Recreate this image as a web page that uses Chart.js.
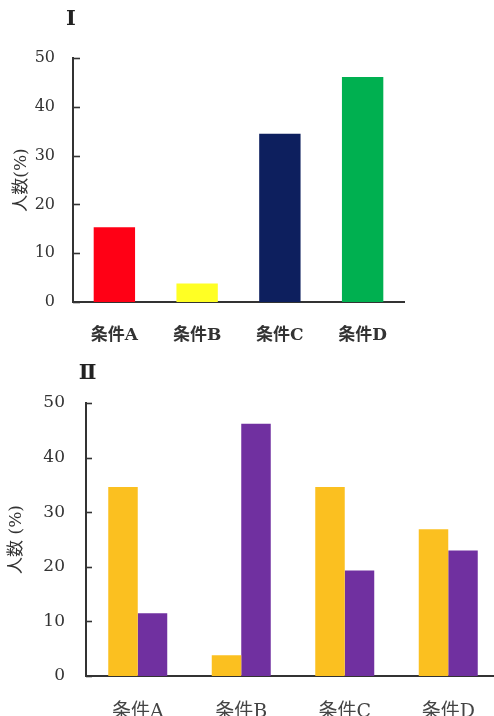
<!DOCTYPE html>
<html lang="ja">
<head>
<meta charset="utf-8">
<title>条件別の人数(%)</title>
<script src="https://cdn.jsdelivr.net/npm/chart.js@4.4.1/dist/chart.umd.min.js"></script>
<style>
  html, body { margin: 0; padding: 0; background: #fff; }
  body { width: 494px; height: 716px; overflow: hidden; position: relative; }
  #wrap1 { position: absolute; left: 0; top: 0; width: 494px; height: 352px; }
  #wrap2 { position: absolute; left: 0; top: 355px; width: 510px; height: 361px; }
</style>
</head>
<body>
<div id="wrap1"><canvas id="chart1" width="494" height="352"></canvas></div>
<div id="wrap2"><canvas id="chart2" width="510" height="361"></canvas></div>
<script>
// Categories and values
const categories = ['条件A', '条件B', '条件C', '条件D'];
const yTicks = [0, 10, 20, 30, 40, 50];

// Figure I: one bar per condition
const valuesI = [15.3, 3.8, 34.5, 46.1];
const colorsI = ['#ff0015', '#ffff24', '#0d1f5e', '#00b050'];

// Figure II: two series per condition
const valuesIIa = [34.6, 3.8, 34.6, 26.9];
const valuesIIb = [11.5, 46.2, 19.3, 23.0];

const NUM_FONT = "'DejaVu Serif', 'Liberation Serif', serif";
const LABEL_FONT = "'DejaVu Serif', 'Noto Sans CJK JP', serif";
const AXIS = '#333333';

// Draws the short inward tick marks on the y axis and the panel heading
const panelDecor = {
  id: 'panelDecor',
  afterDraw(chart, args, opts) {
    const ctx = chart.ctx;
    const y = chart.scales.y;
    const left = chart.chartArea.left;
    ctx.save();
    ctx.strokeStyle = AXIS;
    ctx.lineWidth = 1.6;
    yTicks.forEach(v => {
      const py = Math.round(y.getPixelForValue(v)) + 0.5;
      ctx.beginPath();
      ctx.moveTo(left, py);
      ctx.lineTo(left + opts.tickLen, py);
      ctx.stroke();
    });
    ctx.fillStyle = '#222';
    ctx.font = 'bold ' + opts.size + 'px ' + NUM_FONT;
    ctx.textAlign = 'center';
    ctx.textBaseline = 'middle';
    ctx.fillText(opts.heading, left + opts.dx, opts.y);
    ctx.restore();
  }
};

function yScale(width, labelPad, titleText, titleSize, titlePad, tickSize) {
  return {
    min: 0,
    max: 50,
    afterBuildTicks: s => { s.ticks = yTicks.map(v => ({ value: v })); },
    afterFit: s => { s.width = width; },
    grid: { display: false, drawTicks: false },
    border: { display: true, color: AXIS, width: 2 },
    ticks: {
      padding: labelPad,
      color: '#333',
      font: { family: NUM_FONT, size: tickSize }
    },
    title: {
      display: true,
      text: titleText,
      color: '#333',
      padding: { top: titlePad, bottom: 0 },
      font: { family: LABEL_FONT, size: titleSize }
    }
  };
}

function xScale(height, labelPad, size, weight, color) {
  return {
    afterFit: s => { s.height = height; },
    grid: { display: false, drawTicks: false },
    border: { display: true, color: AXIS, width: 2 },
    ticks: {
      padding: labelPad,
      color: color,
      font: { family: LABEL_FONT, size: size, weight: weight }
    }
  };
}

new Chart(document.getElementById('chart1'), {
  type: 'bar',
  data: {
    labels: categories,
    datasets: [{
      data: valuesI,
      backgroundColor: colorsI,
      borderWidth: 0,
      barPercentage: 0.5,
      categoryPercentage: 1
    }]
  },
  options: {
    responsive: false,
    animation: false,
    layout: { padding: { top: 58, right: 90, left: 0, bottom: 0 } },
    plugins: {
      legend: { display: false },
      tooltip: { enabled: false },
      panelDecor: { heading: 'Ⅰ', dx: -2, y: 20, size: 21, tickLen: 7 }
    },
    scales: {
      x: xScale(50, 23, 17, 'bold', '#333'),
      y: yScale(73, 18, '人数(%)', 17, 11, 16)
    }
  },
  plugins: [panelDecor]
});

new Chart(document.getElementById('chart2'), {
  type: 'bar',
  data: {
    labels: categories,
    datasets: [
      {
        data: valuesIIa,
        backgroundColor: '#fbc020',
        borderWidth: 0,
        barPercentage: 1,
        categoryPercentage: 0.57
      },
      {
        data: valuesIIb,
        backgroundColor: '#7030a0',
        borderWidth: 0,
        barPercentage: 1,
        categoryPercentage: 0.57
      }
    ]
  },
  options: {
    responsive: false,
    animation: false,
    layout: { padding: { top: 48, right: 10, left: 0, bottom: 0 } },
    plugins: {
      legend: { display: false },
      tooltip: { enabled: false },
      panelDecor: { heading: 'Ⅱ', dx: 1.5, y: 18.5, size: 21, tickLen: 6 }
    },
    scales: {
      x: xScale(40, 25, 19, 'normal', '#444'),
      y: yScale(86, 21, '人数 (%)', 17, 6, 17)
    }
  },
  plugins: [panelDecor]
});
</script>
</body>
</html>
